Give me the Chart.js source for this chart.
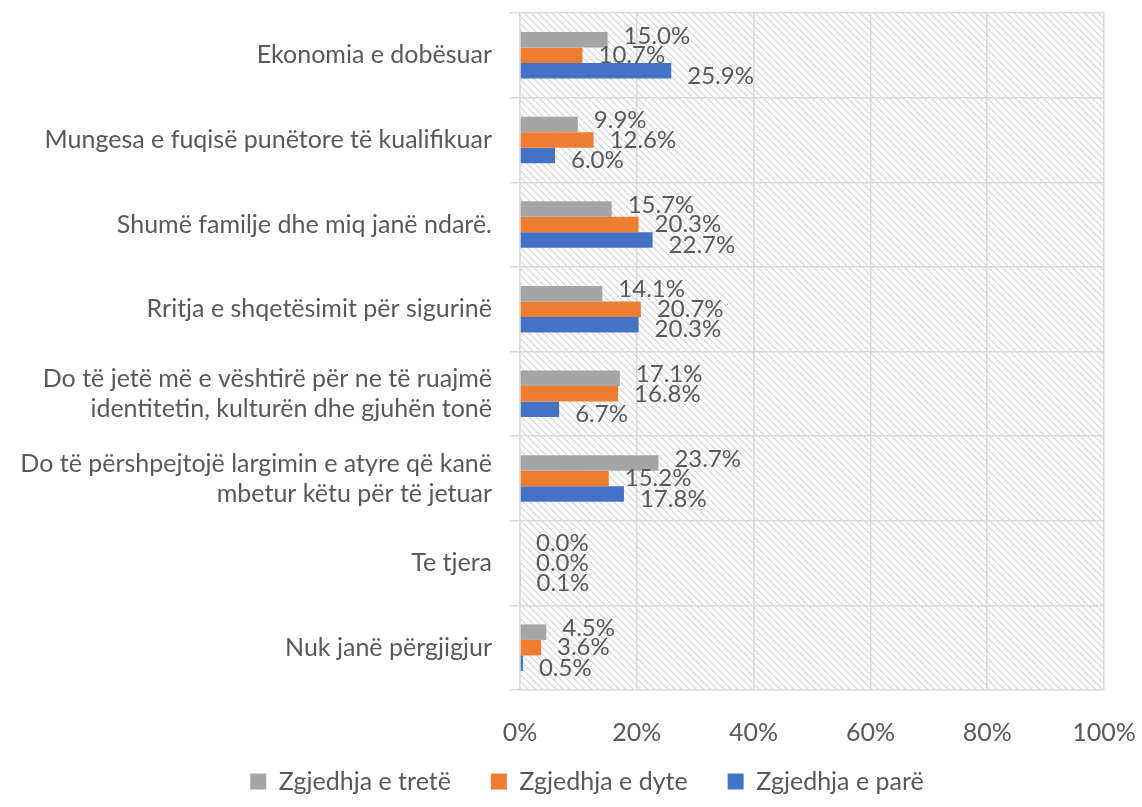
<!DOCTYPE html>
<html>
<head>
<meta charset="utf-8">
<script src="https://cdn.jsdelivr.net/npm/chart.js@4"></script>
<style>
  html, body { margin: 0; padding: 0; background: #fff; }
  #wrap { width: 1142px; height: 807px; }
</style>
</head>
<body>
<div id="wrap"><canvas id="chart" width="1142" height="807"></canvas></div>
<script>
// categories and values (percent)
const categories = [
  'Ekonomia e dobësuar',
  'Mungesa e fuqisë punëtore të kualifikuar',
  'Shumë familje dhe miq janë ndarë.',
  'Rritja e shqetësimit për sigurinë',
  ['Do të jetë më e vështirë për ne të ruajmë', 'identitetin, kulturën dhe gjuhën tonë'],
  ['Do të përshpejtojë largimin e atyre që kanë', 'mbetur këtu për të jetuar'],
  'Te tjera',
  'Nuk janë përgjigjur'
];
const third  = [15.0, 9.9, 15.7, 14.1, 17.1, 23.7, 0.0, 4.5];
const second = [10.7, 12.6, 20.3, 20.7, 16.8, 15.2, 0.0, 3.6];
const first  = [25.9, 6.0, 22.7, 20.3, 6.7, 17.8, 0.1, 0.5];
const xTicks = [0, 20, 40, 60, 80, 100];

const FONT = 'Lato, "Noto Sans", sans-serif';
const TEXT = '#595959';

function makeHatch() {
  const s = 7;
  const c = document.createElement('canvas');
  c.width = s; c.height = s;
  const g = c.getContext('2d');
  g.fillStyle = '#ffffff';
  g.fillRect(0, 0, s, s);
  g.strokeStyle = '#d4d4d4';
  g.lineWidth = 1.2;
  g.beginPath();
  g.moveTo(-1, -1); g.lineTo(s + 1, s + 1);
  g.moveTo(-1, s - 1); g.lineTo(1, s + 1);
  g.moveTo(s - 1, -1); g.lineTo(s + 1, 1);
  g.stroke();
  return g.createPattern(c, 'repeat');
}

const hatchBg = {
  id: 'hatchBg',
  beforeDraw(chart) {
    const a = chart.chartArea;
    const ctx = chart.ctx;
    ctx.save();
    ctx.fillStyle = makeHatch();
    ctx.fillRect(a.left, a.top, a.right - a.left, a.bottom - a.top);
    ctx.restore();
  }
};

// nudge the legend so it sits centred under the whole picture like the original
const legendShift = {
  id: 'legendShift',
  afterLayout(chart) {
    const lg = chart.legend;
    if (!lg) return;
    lg.left += 30; lg.right += 30;
    lg.top -= 5; lg.bottom -= 5;
  }
};

// value labels to the right of the bars
const valueLabels = {
  id: 'valueLabels',
  afterDatasetsDraw(chart) {
    const ctx = chart.ctx;
    const yShift = [-4, 0, 5];
    ctx.save();
    ctx.font = '24px ' + FONT;
    ctx.fillStyle = TEXT;
    ctx.textBaseline = 'middle';
    ctx.textAlign = 'left';
    chart.data.datasets.forEach(function(ds, di) {
      const meta = chart.getDatasetMeta(di);
      meta.data.forEach(function(bar, i) {
        ctx.fillText(ds.data[i].toFixed(1) + '%', bar.x + 16, bar.y + yShift[di]);
      });
    });
    ctx.restore();
  }
};

const data = {
  labels: categories,
  datasets: [
    { label: 'Zgjedhja e tretë', data: third, backgroundColor: '#a5a5a5' },
    { label: 'Zgjedhja e dyte', data: second, backgroundColor: '#ed7d31' },
    { label: 'Zgjedhja e parë', data: first, backgroundColor: '#4472c4' }
  ]
};

const config = {
  type: 'bar',
  data: data,
  options: {
    indexAxis: 'y',
    responsive: false,
    animation: false,
    layout: { padding: { top: 13, left: 10, right: 38, bottom: -2 } },
    datasets: { bar: { categoryPercentage: 0.55, barPercentage: 1.0 } },
    scales: {
      x: {
        min: 0,
        max: 100,
        afterBuildTicks(scale) { scale.ticks = xTicks.map(function(v) { return { value: v }; }); },
        afterFit(scale) {
          scale.height = 44;
          scale.paddingLeft = 0;
          scale.paddingRight = 0;
          // labels hang below the (short) axis box, so don't clip them to it
          scale._computeLabelArea = function() { return undefined; };
        },
        grid: { color: '#d9d9d9', lineWidth: 1.5, drawTicks: false },
        border: { display: false },
        ticks: {
          padding: 28,
          color: TEXT,
          font: { family: FONT, size: 25, lineHeight: 1.2 },
          callback: function(v) { return v + '%'; }
        }
      },
      y: {
        grid: { color: '#d9d9d9', lineWidth: 1.5, offset: true, tickLength: 10 },
        border: { color: '#d9d9d9', width: 1.5 },
        afterFit(scale) {
          scale.width = 510;
          scale.paddingTop = 0;
          scale.paddingBottom = 0;
        },
        ticks: {
          padding: 18,
          color: TEXT,
          font: { family: FONT, size: 25, lineHeight: 1.2 }
        }
      }
    },
    plugins: {
      legend: {
        position: 'bottom',
        labels: {
          boxWidth: 16,
          boxHeight: 16,
          padding: 40,
          color: TEXT,
          font: { family: FONT, size: 25 }
        }
      },
      tooltip: { enabled: false }
    }
  },
  plugins: [hatchBg, legendShift, valueLabels]
};

new Chart(document.getElementById('chart'), config);
</script>
</body>
</html>
